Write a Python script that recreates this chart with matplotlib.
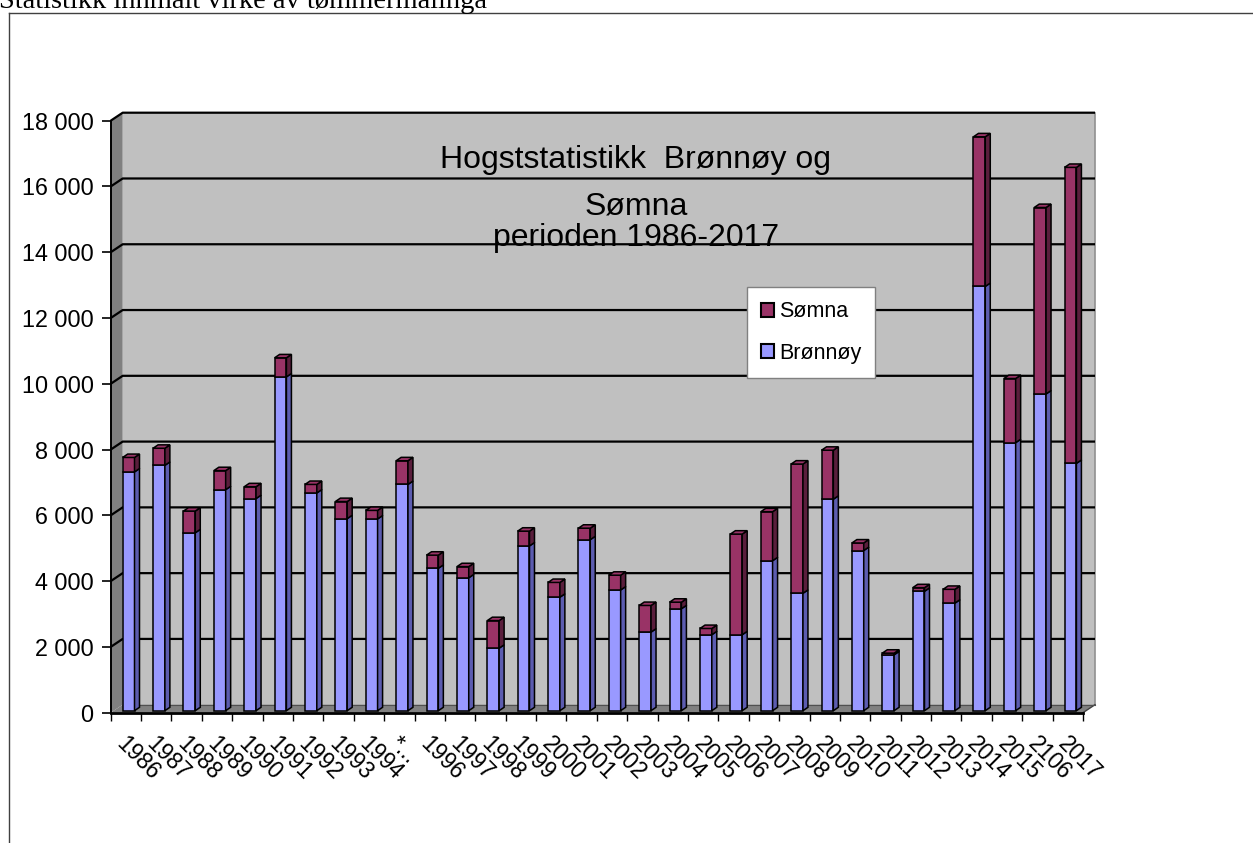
import numpy as np
import matplotlib
matplotlib.use("Agg")
import matplotlib.pyplot as plt
from matplotlib.patches import Polygon, Patch
from matplotlib.lines import Line2D
from matplotlib.transforms import ScaledTranslation

# ---------------- data ----------------
years = ["1986", "1987", "1988", "1989", "1990", "1991", "1992", "1993", "1994", "*...",
         "1996", "1997", "1998", "1999", "2000", "2001", "2002", "2003", "2004", "2005",
         "2006", "2007", "2008", "2009", "2010", "2011", "2012", "2013", "2014", "2015",
         "2106", "2017"]
bronnoy = [7260, 7460, 5410, 6720, 6450, 10150, 6620, 5840, 5830, 6880,
           4330, 4040, 1900, 5010, 3450, 5200, 3670, 2390, 3100, 2310,
           2310, 4560, 3570, 6430, 4870, 1700, 3630, 3270, 12900, 8150,
           9630, 7520]
somna = [440, 520, 660, 580, 360, 580, 260, 520, 260, 720,
         400, 340, 840, 450, 450, 350, 450, 810, 200, 190,
         3060, 1490, 3930, 1490, 230, 50, 110, 420, 4550, 1950,
         5670, 9000]
y_ticks = [0, 2000, 4000, 6000, 8000, 10000, 12000, 14000, 16000, 18000]
y_tick_labels = ["0", "2 000", "4 000", "6 000", "8 000", "10 000", "12 000",
                 "14 000", "16 000", "18 000"]
series_names = ["Sømna", "Brønnøy"]
title_lines = ["Hogststatistikk  Brønnøy og", "Sømna", "perioden 1986-2017"]
header = "Statistikk innmålt virke av tømmermålinga"

# ---------------- style ----------------
C_BLUE = "#9999FF"
C_BLUE_SIDE = "#5C5CB0"
C_RED = "#993366"
C_RED_SIDE = "#5A1E3C"
C_WALL = "#C0C0C0"
C_SIDEWALL = "#808080"
SANS = ["Liberation Sans", "DejaVu Sans"]
SERIF = ["Liberation Serif", "DejaVu Serif"]

W, H = 1253, 843
fig = plt.figure(figsize=(W / 100, H / 100), dpi=100)
fig.patch.set_facecolor("white")

x0p, x1p = 110.7, 1083.0
ytp, ybp = 120.7, 712.7
ax = fig.add_axes([x0p / W, 1 - ybp / H, (x1p - x0p) / W, (ybp - ytp) / H])
n = len(years)
ax.set_xlim(0, n)
ax.set_ylim(0, 18000)
ax.patch.set_visible(False)
for s in ["top", "right"]:
    ax.spines[s].set_visible(False)
ax.spines["left"].set_linewidth(1.4)
ax.spines["bottom"].set_linewidth(2.0)
ax.spines["left"].set_zorder(6)
ax.spines["bottom"].set_zorder(6)

cat_px = (x1p - x0p) / n
val_px = (ybp - ytp) / 18000.0
dxw = 12 / cat_px
dyw = 8 / val_px

# walls and floor
ax.add_patch(Polygon([(dxw, dyw), (n + dxw, dyw), (n + dxw, 18000 + dyw), (dxw, 18000 + dyw)],
                     closed=True, fc=C_WALL, ec="none", clip_on=False, zorder=0))
ax.add_patch(Polygon([(0, 0), (dxw, dyw), (dxw, 18000 + dyw), (0, 18000)],
                     closed=True, fc=C_SIDEWALL, ec="none", clip_on=False, zorder=0))
ax.add_patch(Polygon([(0, 0), (n, 0), (n + dxw, dyw), (dxw, dyw)],
                     closed=True, fc=C_SIDEWALL, ec="none", clip_on=False, zorder=0))
ax.plot([n + dxw, n + dxw], [dyw, 18000 + dyw], color="#909090", lw=1.2, clip_on=False, zorder=1)
ax.plot([n, n + dxw], [0, dyw], color="#404040", lw=1.0, clip_on=False, zorder=1)
for v in y_ticks:
    if v == 0:
        ax.plot([dxw, n + dxw], [dyw, dyw], color="#505050", lw=0.8, clip_on=False, zorder=1)
    else:
        ax.plot([0, dxw, n + dxw], [v, v + dyw, v + dyw], color="black", lw=1.6,
                clip_on=False, zorder=1, solid_capstyle="butt")

# bars (pseudo 3D)
bar_off = 12 / cat_px
bar_w = 11.8 / cat_px
base = 2 / val_px
sd = 5 / cat_px
sr = 3.4 / val_px
xl = np.arange(n) + bar_off
b = np.array(bronnoy, dtype=float)
s = np.array(somna, dtype=float)
ax.bar(xl, b, width=bar_w, bottom=base, align="edge", color=C_BLUE, edgecolor="black",
       linewidth=1.1, zorder=3, clip_on=False)
ax.bar(xl, s, width=bar_w, bottom=base + b, align="edge", color=C_RED, edgecolor="black",
       linewidth=1.1, zorder=3, clip_on=False)
for i in range(n):
    l = xl[i]
    r = l + bar_w
    segs = [(base, base + b[i], C_BLUE_SIDE), (base + b[i], base + b[i] + s[i], C_RED_SIDE)]
    for (ya, yb, col) in segs:
        if yb - ya <= 0:
            continue
        ax.add_patch(Polygon([(r, ya), (r + sd, ya + sr), (r + sd, yb + sr), (r, yb)],
                             closed=True, fc=col, ec="black", lw=1.1, zorder=3, clip_on=False))
    top = base + b[i] + s[i]
    tcol = C_RED if s[i] > 0 else C_BLUE
    ax.add_patch(Polygon([(l, top), (l + sd, top + sr), (r + sd, top + sr), (r, top)],
                         closed=True, fc=tcol, ec="black", lw=1.1, zorder=3, clip_on=False))

# ticks
ax.set_yticks(y_ticks)
ax.set_yticklabels(y_tick_labels, fontsize=16.8, family=SANS)
ax.tick_params(axis="y", length=6.5, width=1.2, pad=5.8, color="black")
ax.set_xticks(np.arange(n + 1))
ax.set_xticklabels([])
ax.tick_params(axis="x", which="major", length=5.8, width=1.0, color="black")
ax.set_xticks(np.arange(n) + 0.5, minor=True)
ax.set_xticklabels(years, minor=True, fontsize=16.5, family=SANS, rotation=-45,
                   ha="left", va="center", rotation_mode="anchor")
ax.tick_params(axis="x", which="minor", length=0, pad=20.0)
off = ScaledTranslation(-6 / 100, 0, fig.dpi_scale_trans)
for lab in ax.get_xticklabels(minor=True):
    lab.set_transform(lab.get_transform() + off)

# title inside the chart
for txt, yb in zip(title_lines, [168, 214, 246]):
    fig.text(636 / W, 1 - yb / H, txt, ha="center", va="baseline", fontsize=23,
             family=SANS, zorder=5)

# legend
handles = [Patch(facecolor=C_RED, edgecolor="black", linewidth=1.5, label=series_names[0]),
           Patch(facecolor=C_BLUE, edgecolor="black", linewidth=1.5, label=series_names[1])]
leg = ax.legend(handles=handles, loc="upper left",
                bbox_to_anchor=(746.7 / W, 1 - 287.3 / H), bbox_transform=fig.transFigure,
                borderaxespad=0, frameon=True, fancybox=False, framealpha=1,
                edgecolor="#808080", facecolor="white", prop={"family": SANS, "size": 15.5},
                handlelength=0.6, handleheight=0.6, handletextpad=0.25, labelspacing=0.95,
                borderpad=0.65)
leg.get_frame().set_linewidth(1.0)
leg.set_zorder(10)

# header text (cut at the top edge, as in the original) and chart area border
fig.text(-1 / W, 1 - 8 / H, header, ha="left", va="baseline", fontsize=20.5, family=SERIF)
fig.add_artist(Line2D([9 / W, 9 / W], [0, 1 - 13 / H], transform=fig.transFigure,
                      color="#404040", lw=1.0))
fig.add_artist(Line2D([9 / W, 1.0], [1 - 13 / H, 1 - 13 / H], transform=fig.transFigure,
                      color="#404040", lw=1.0))

fig.savefig("out.png", dpi=100)
